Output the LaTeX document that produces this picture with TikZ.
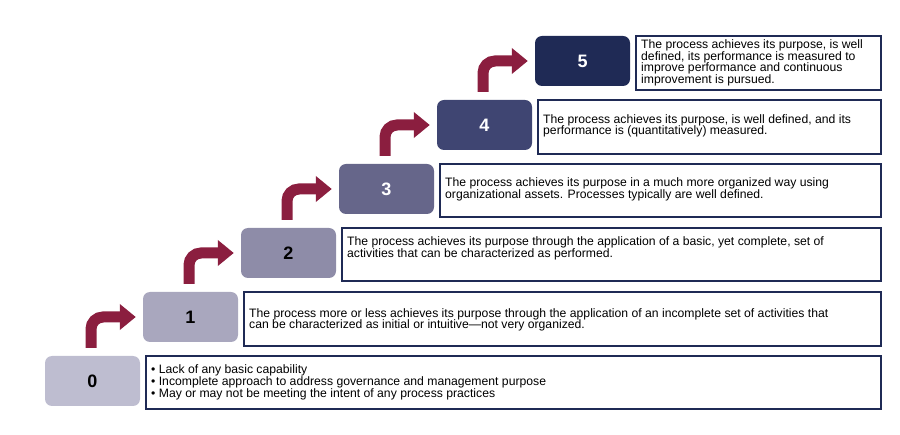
\documentclass[tikz,border=0pt]{standalone}
\usepackage{fontspec}
\setmainfont{Liberation Sans}
\usetikzlibrary{arrows.meta}
\definecolor{navy}{HTML}{1F2A55}
\definecolor{maroon}{HTML}{8B1E3F}
\definecolor{c0}{HTML}{BEBDD0}
\definecolor{c1}{HTML}{A9A7BE}
\definecolor{c2}{HTML}{8E8CA8}
\definecolor{c3}{HTML}{66668A}
\definecolor{c4}{HTML}{3F4572}
\definecolor{c5}{HTML}{1F2A55}
\begin{document}
\begin{tikzpicture}[x=1pt,y=-1pt,
  lvl/.style={rounded corners=7pt,minimum width=95pt,minimum height=50pt,inner sep=0pt,font=\bfseries\fontsize{18}{20}\selectfont},
  desc/.style={draw=navy,line width=1.8pt,anchor=north west,inner sep=0pt,text depth=0pt},
  dtext/.style={anchor=west,align=left,font=\fontsize{12.2}{11.6}\selectfont,inner sep=0pt},
  uparrow/.style={draw=maroon,line width=11pt,rounded corners=12pt,-{Triangle[width=25pt,length=16pt]}}]
\useasboundingbox (0,0) rectangle (900,435);
\foreach \i/\c/\t in {0/c0/black,1/c1/black,2/c2/black,3/c3/white,4/c4/white,5/c5/white}{
  \node[lvl,fill=\c,text=\t] (n\i) at ({92.5+98*\i},{381-64*\i}) {\i};
}
\foreach \i/\h in {0/53,1/54,2/53,3/53,4/54,5/54}{
  \node[desc,minimum width={880-(145+98*\i)},minimum height=\h] (b\i) at ({145+98*\i},{355-64*\i}) {};
}
\node[dtext] (t0) at ([xshift=6pt]b0.west) {• Lack of any basic capability\\• Incomplete approach to address governance and management purpose\\• May or may not be meeting the intent of any process practices};
\node[dtext] (t1) at ([xshift=6pt,yshift=-1pt]b1.west) {The process more or less achieves its purpose through the application of an incomplete set of activities that\\can be characterized as initial or intuitive—not very organized.};
\node[dtext] (t2) at ([xshift=6pt,yshift=6pt]b2.west) {The process achieves its purpose through the application of a basic, yet complete, set of\\activities that can be characterized as performed.};
\node[dtext] (t3) at ([xshift=6pt,yshift=1pt]b3.west) {The process achieves its purpose in a much more organized way using\\organizational assets. Processes typically are well defined.};
\node[dtext] (t4) at ([xshift=6pt,yshift=1pt]b4.west) {The process achieves its purpose, is well defined, and its\\performance is (quantitatively) measured.};
\node[dtext] (t5) at ([xshift=6pt]b5.west) {The process achieves its purpose, is well\\defined, its performance is measured to\\improve performance and continuous\\improvement is pursued.};
\foreach \i in {0,...,4}{
  \coordinate (s\i) at ({91+98*\i},{348-64*\i});
  \pgfmathtruncatemacro{\j}{\i+1}
  \draw[uparrow] (s\i) |- ([xshift=-7pt]n\j.west);
}
\end{tikzpicture}
\end{document}
